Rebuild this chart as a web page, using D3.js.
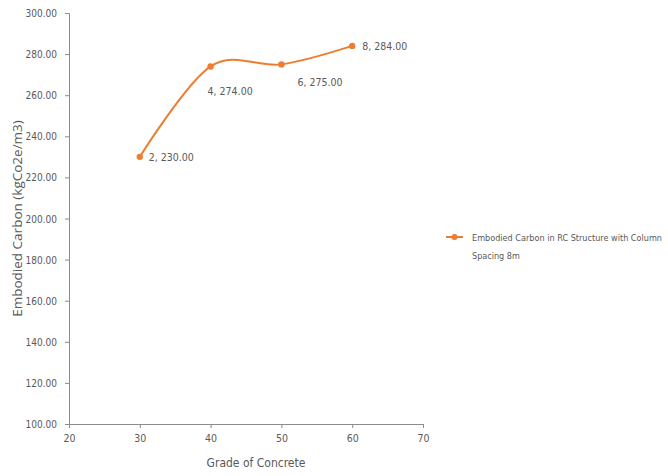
<!DOCTYPE html>
<html>
<head>
<meta charset="utf-8">
<script src="https://cdn.jsdelivr.net/npm/d3@7"></script>
<style>
  html, body { margin: 0; padding: 0; background: #fff; }
  svg text { font-family: "DejaVu Sans Condensed", "Liberation Sans Narrow", sans-serif; fill: #595959; }
</style>
</head>
<body>
<svg id="chart" width="668" height="476"></svg>
<script>
// Concrete grade vs. embodied carbon
const grades = [30, 40, 50, 60];
const carbon = [230, 274, 275, 284];
const pointLabels = ["2, 230.00", "4, 274.00", "6, 275.00", "8, 284.00"];
const xTicks = [20, 30, 40, 50, 60, 70];
const yTicks = [100, 120, 140, 160, 180, 200, 220, 240, 260, 280, 300];
const seriesName = ["Embodied Carbon in RC Structure with Column", "Spacing 8m"];

const svg = d3.select("#chart");
const orange = "#ED7D31";
const axisColor = "#8c8c8c";

const x = d3.scaleLinear().domain([20, 70]).range([69, 423]);
const y = d3.scaleLinear().domain([100, 300]).range([424, 13]);

// Y axis
const yAxis = svg.append("g")
  .attr("transform", `translate(${x(20)},0)`)
  .call(d3.axisLeft(y).tickValues(yTicks).tickSize(4).tickFormat(d3.format(".2f")));
yAxis.selectAll("path, line").attr("stroke", axisColor);
yAxis.selectAll("text").attr("font-size", 10).attr("x", -12).attr("dy", "0.35em");

// X axis
const xAxis = svg.append("g")
  .attr("transform", `translate(0,${y(100)})`)
  .call(d3.axisBottom(x).tickValues(xTicks).tickSize(4).tickFormat(d3.format("d")));
xAxis.selectAll("path, line").attr("stroke", axisColor);
xAxis.selectAll("text").attr("font-size", 10.5).attr("y", 11);

// Axis titles
svg.append("text")
  .attr("transform", `translate(22,${(y(100) + y(300)) / 2}) rotate(-90)`)
  .attr("text-anchor", "middle")
  .attr("font-size", 13.5)
  .style("font-family", "'Open Sans', sans-serif")
  .text("Embodied Carbon (kgCo2e/m3)");

svg.append("text")
  .attr("x", (x(20) + x(70)) / 2 + 10)
  .attr("y", 467)
  .attr("text-anchor", "middle")
  .attr("font-size", 12)
  .text("Grade of Concrete");

// Series
const data = grades.map((g, i) => ({ g, v: carbon[i], label: pointLabels[i] }));

const line = d3.line()
  .x(d => x(d.g))
  .y(d => y(d.v))
  .curve(d3.curveCatmullRom.alpha(0));

svg.append("path")
  .datum(data)
  .attr("fill", "none")
  .attr("stroke", orange)
  .attr("stroke-width", 2)
  .attr("d", line);

svg.selectAll("circle.pt")
  .data(data)
  .enter().append("circle")
  .attr("class", "pt")
  .attr("cx", d => x(d.g))
  .attr("cy", d => y(d.v))
  .attr("r", 3.2)
  .attr("fill", orange);

// Data labels (offset per point)
const labelOffsets = [[9, 4], [-3, 29], [16, 22], [10, 4]];
svg.selectAll("text.lbl")
  .data(data)
  .enter().append("text")
  .attr("class", "lbl")
  .attr("x", (d, i) => x(d.g) + labelOffsets[i][0])
  .attr("y", (d, i) => y(d.v) + labelOffsets[i][1])
  .attr("font-size", 10.5)
  .text(d => d.label);

// Legend
const lg = svg.append("g").attr("transform", "translate(446,237)");
lg.append("line").attr("x1", 0).attr("x2", 17).attr("y1", 0).attr("y2", 0)
  .attr("stroke", orange).attr("stroke-width", 2);
lg.append("circle").attr("cx", 8.5).attr("cy", 0).attr("r", 3).attr("fill", orange);
lg.selectAll("text.leg")
  .data(seriesName)
  .enter().append("text")
  .attr("class", "leg")
  .attr("x", 26)
  .attr("y", (d, i) => 4 + i * 18)
  .attr("font-size", 9)
  .each(function(d, i) {
    if (i === 0) d3.select(this).attr("textLength", 190).attr("lengthAdjust", "spacingAndGlyphs");
  })
  .text(d => d);
</script>
</body>
</html>
